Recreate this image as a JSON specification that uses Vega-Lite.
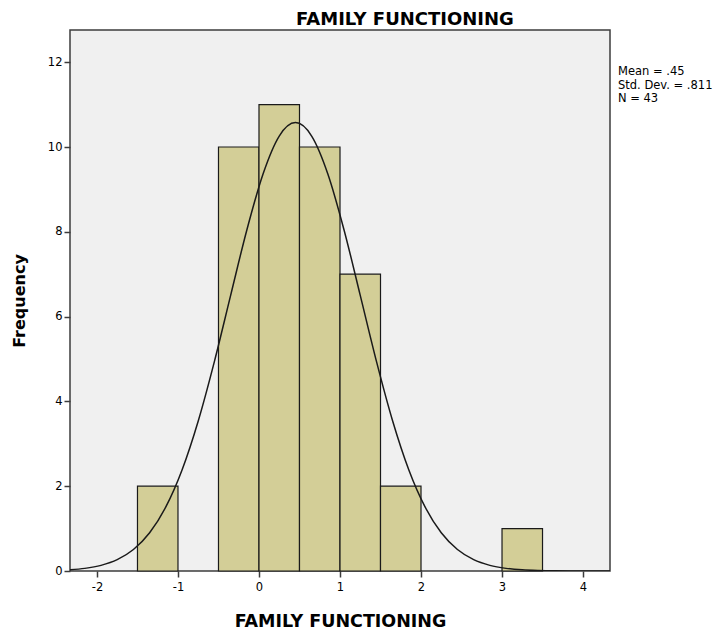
{
  "$schema": "https://vega.github.io/schema/vega-lite/v6.json",
  "autosize": {"type": "none"},
  "width": 540,
  "height": 541,
  "padding": {"left": 70, "top": 30, "right": 110, "bottom": 59},
  "background": "white",
  "title": {
    "text": "FAMILY FUNCTIONING",
    "font": "DejaVu Sans",
    "fontSize": 18,
    "fontWeight": "bold",
    "color": "#000000",
    "anchor": "middle",
    "dx": 65,
    "offset": 1
  },
  "config": {
    "view": {"fill": "#f0f0f0", "stroke": "#3c3c3c", "strokeWidth": 1.5},
    "axis": {
      "labelFont": "DejaVu Sans",
      "labelFontSize": 11.5,
      "labelColor": "#000000",
      "titleFont": "DejaVu Sans",
      "titleFontWeight": "bold",
      "titleColor": "#000000",
      "tickColor": "#3c3c3c",
      "tickSize": 6,
      "tickWidth": 1.5,
      "domain": false,
      "grid": false
    }
  },
  "datasets": {
    "bins": [
      {"bin_start": -1.5, "bin_end": -1.0, "count": 2},
      {"bin_start": -0.5, "bin_end": 0.0, "count": 10},
      {"bin_start": 0.0, "bin_end": 0.5, "count": 11},
      {"bin_start": 0.5, "bin_end": 1.0, "count": 10},
      {"bin_start": 1.0, "bin_end": 1.5, "count": 7},
      {"bin_start": 1.5, "bin_end": 2.0, "count": 2},
      {"bin_start": 3.0, "bin_end": 3.5, "count": 1}
    ],
    "curve": [
      {"x": -2.333, "y": 0.029},
      {"x": -2.15, "y": 0.062},
      {"x": -1.95, "y": 0.133},
      {"x": -1.75, "y": 0.267},
      {"x": -1.55, "y": 0.506},
      {"x": -1.35, "y": 0.901},
      {"x": -1.15, "y": 1.511},
      {"x": -0.95, "y": 2.383},
      {"x": -0.75, "y": 3.539},
      {"x": -0.55, "y": 4.945},
      {"x": -0.35, "y": 6.502},
      {"x": -0.15, "y": 8.044},
      {"x": 0.05, "y": 9.365},
      {"x": 0.25, "y": 10.259},
      {"x": 0.45, "y": 10.576},
      {"x": 0.65, "y": 10.259},
      {"x": 0.85, "y": 9.365},
      {"x": 1.05, "y": 8.044},
      {"x": 1.25, "y": 6.502},
      {"x": 1.45, "y": 4.945},
      {"x": 1.65, "y": 3.539},
      {"x": 1.85, "y": 2.383},
      {"x": 2.05, "y": 1.511},
      {"x": 2.25, "y": 0.901},
      {"x": 2.45, "y": 0.506},
      {"x": 2.65, "y": 0.267},
      {"x": 2.85, "y": 0.133},
      {"x": 3.05, "y": 0.062},
      {"x": 3.25, "y": 0.027},
      {"x": 3.45, "y": 0.011},
      {"x": 3.65, "y": 0.004},
      {"x": 3.85, "y": 0.002},
      {"x": 4.05, "y": 0.0006},
      {"x": 4.25, "y": 0.0002},
      {"x": 4.333, "y": 0.0001}
    ],
    "stats": [
      {"label": "Mean = .45\nStd. Dev. = .811\nN = 43", "xpos": 4.333, "ypos": 11.9}
    ]
  },
  "layer": [
    {
      "data": {"name": "bins"},
      "mark": {"type": "rect", "fill": "#d3ce97", "stroke": "#1a1a1a", "strokeWidth": 1.2},
      "encoding": {
        "x": {
          "field": "bin_start",
          "type": "quantitative",
          "scale": {"domain": [-2.333, 4.333], "nice": false, "zero": false},
          "axis": {"values": [-2, -1, 0, 1, 2, 3, 4], "labelExpr": "'' + datum.value", "title": "FAMILY FUNCTIONING", "titleFontSize": 17.5, "titlePadding": 20, "labelPadding": 4}
        },
        "x2": {"field": "bin_end"},
        "y": {
          "field": "count",
          "type": "quantitative",
          "scale": {"domain": [0, 12.76], "nice": false},
          "axis": {"values": [0, 2, 4, 6, 8, 10, 12], "title": "Frequency", "titleFontSize": 16, "titlePadding": 20, "labelPadding": 2}
        },
        "y2": {"datum": 0}
      }
    },
    {
      "data": {"name": "curve"},
      "mark": {"type": "line", "color": "#1a1a1a", "strokeWidth": 1.5, "interpolate": "monotone", "clip": true},
      "encoding": {
        "x": {"field": "x", "type": "quantitative"},
        "y": {"field": "y", "type": "quantitative"}
      }
    },
    {
      "data": {"name": "stats"},
      "mark": {"type": "text", "align": "left", "baseline": "top", "dx": 8, "font": "DejaVu Sans", "fontSize": 11.5, "lineBreak": "\n", "lineHeight": 13.5, "color": "#000000", "clip": false},
      "encoding": {
        "x": {"field": "xpos", "type": "quantitative"},
        "y": {"field": "ypos", "type": "quantitative"},
        "text": {"field": "label"}
      }
    }
  ]
}
